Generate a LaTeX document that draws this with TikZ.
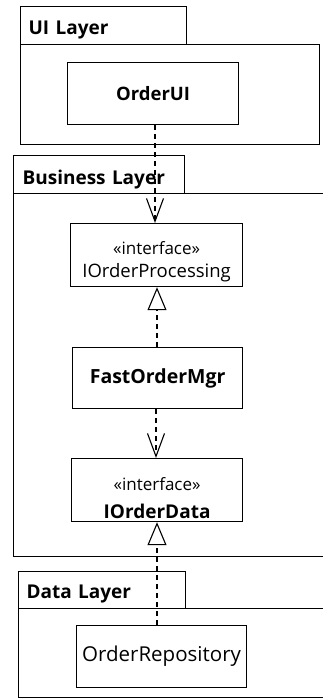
\documentclass[tikz,border=0pt]{standalone}
\usepackage{fontspec}
\setmainfont{Open Sans}
\usetikzlibrary{arrows.meta}
\tikzset{
  frame/.style={draw, line width=1.2pt, rectangle, inner sep=0pt, anchor=north west},
  tabbox/.style={frame, align=left, inner xsep=8pt, text depth=0pt, font=\fontsize{19}{22}\selectfont\bfseries},
  cls/.style={frame},
  clstext/.style={align=center, inner sep=0pt},
  dep/.style={line width=1.1pt, dash pattern=on 5pt off 4pt, -{Straight Barb[length=23pt,width=17pt]}},
  real/.style={line width=1.1pt, dash pattern=on 5pt off 4pt, -{Triangle[open,length=23pt,width=19pt]}}
}
\begin{document}
\begin{tikzpicture}[x=1pt,y=-1pt]
\useasboundingbox (0,0) rectangle (322,699);
% UI Layer
\node[frame, minimum width=299pt, minimum height=100pt] (uibody) at (20,44) {};
\node[tabbox, text width=150pt, minimum height=38pt, text height=18pt] (uitab) at (20,6) {UI Layer};
\node[cls, minimum width=171pt, minimum height=62pt, font=\bfseries\fontsize{18.5}{22}\selectfont] (orderui) at (67,62) {OrderUI};
% Business Layer
\node[frame, minimum width=330pt, minimum height=363pt] (blbody) at (13,193) {};
\node[tabbox, text width=153pt, minimum height=38pt, text height=19pt, inner xsep=9pt] (bltab) at (13,155) {Business Layer};
\node[cls, minimum width=172pt, minimum height=63pt] (iop) at (70,223) {};
\node[clstext, font=\fontsize{17}{23}\selectfont] (ioptext) at ([yshift=-7pt]iop.center) {«interface»\\{\fontsize{18.5}{20}\selectfont IOrderProcessing}};
\node[cls, minimum width=170pt, minimum height=61pt, font=\bfseries\fontsize{19.5}{22}\selectfont] (fom) at (72,347) {FastOrderMgr};
\node[cls, minimum width=171pt, minimum height=63pt] (iod) at (71,458) {};
\node[clstext, font=\fontsize{17}{28}\selectfont] (iodtext) at ([yshift=-8pt]iod.center) {«interface»\\\textbf{\fontsize{19}{22}\selectfont IOrderData}};
% Data Layer
\node[frame, minimum width=330pt, minimum height=89pt] (dlbody) at (18,608) {};
\node[tabbox, text width=151pt, minimum height=37pt, text height=17pt] (dltab) at (18,571) {Data Layer};
\node[cls, minimum width=170pt, minimum height=62pt, font=\fontsize{20.5}{24}\selectfont] (orep) at (76,625) {OrderRepository};
% connectors
\coordinate (a1) at (155,124);
\coordinate (a2) at (155,223);
\draw[dep] (orderui.south -| a1) -- (iop.north -| a2);
\coordinate (b1) at (157,347);
\draw[real] (fom.north -| b1) -- (iop.south -| b1);
\coordinate (c1) at (156,408);
\draw[dep] (fom.south -| c1) -- (iod.north -| c1);
\coordinate (d1) at (157,625);
\draw[real] (orep.north -| d1) -- (iod.south -| d1);
\end{tikzpicture}
\end{document}
